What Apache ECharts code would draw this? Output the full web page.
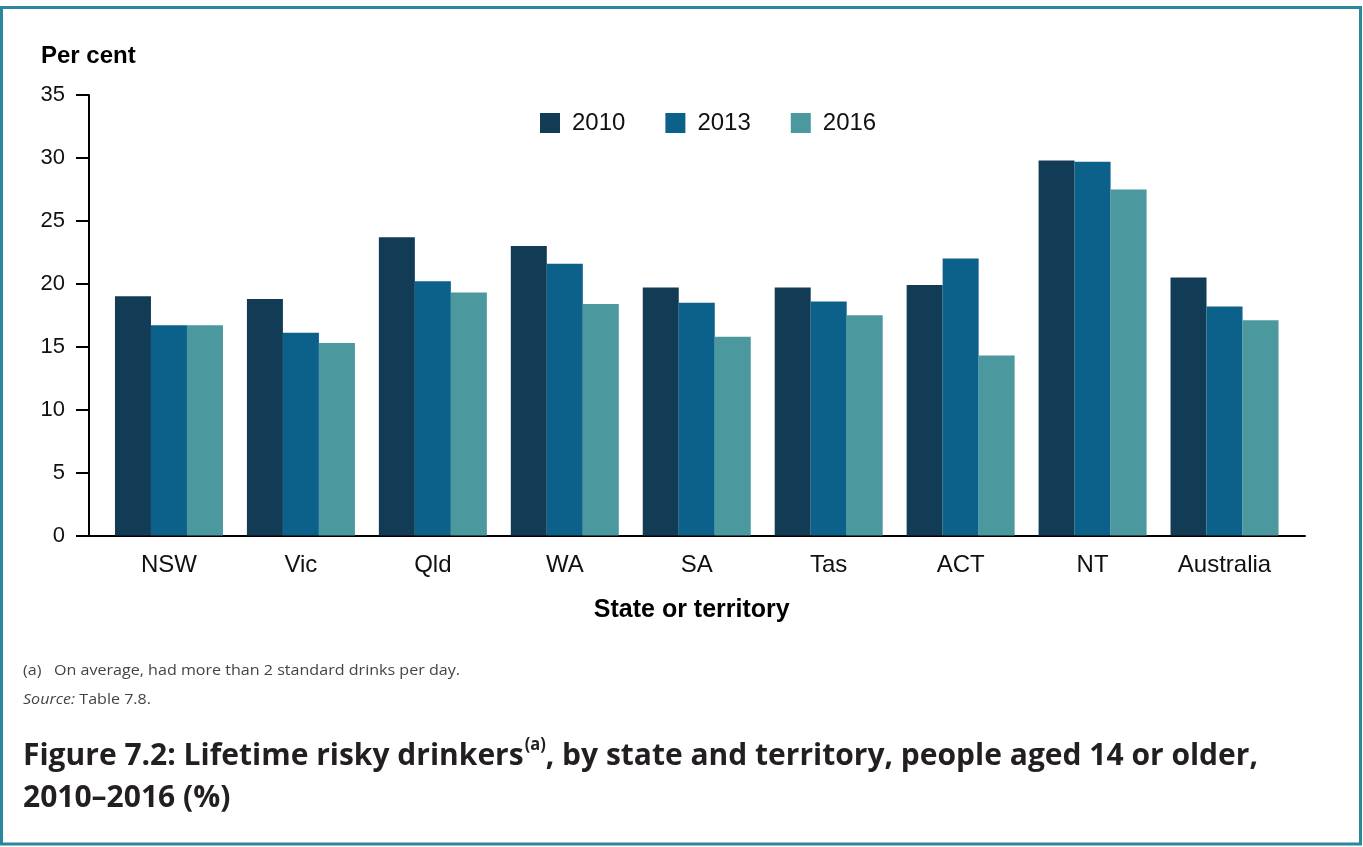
<!DOCTYPE html>
<html>
<head>
<meta charset="utf-8">
<script src="https://cdn.jsdelivr.net/npm/echarts@6/dist/echarts.min.js"></script>
<style>
html,body{margin:0;padding:0;background:#fff;}
#chart{width:1363px;height:847px;}
</style>
</head>
<body>
<div id="chart"></div>
<script>
// ---- data ----
const categories = ['NSW', 'Vic', 'Qld', 'WA', 'SA', 'Tas', 'ACT', 'NT', 'Australia'];
const seriesNames = ['2010', '2013', '2016'];
const values2010 = [19.0, 18.8, 23.7, 23.0, 19.7, 19.7, 19.9, 29.8, 20.5];
const values2013 = [16.7, 16.1, 20.2, 21.6, 18.5, 18.6, 22.0, 29.7, 18.2];
const values2016 = [16.7, 15.3, 19.3, 18.4, 15.8, 17.5, 14.3, 27.5, 17.1];
const yMin = 0, yMax = 35, yInterval = 5;
const yAxisTitle = 'Per cent';
const xAxisTitle = 'State or territory';
const footnote = '(a)   On average, had more than 2 standard drinks per day.';
const sourceLabel = 'Source:';
const sourceText = ' Table 7.8.';
const titleLine1a = 'Figure 7.2: Lifetime risky drinkers';
const titleSup = '(a)';
const titleLine1b = ', by state and territory, people aged 14 or older,';
const titleLine2 = '2010\u20132016 (%)';

const colors = ['#123c55', '#0b618a', '#4b999e'];
const frameColor = '#2a879c';
const sansFont = '"Liberation Sans", Arial, sans-serif';

// text measuring helper for condensed-looking text
const mctx = document.createElement('canvas').getContext('2d');
function w(text, font) { mctx.font = font; return mctx.measureText(text).width; }

const titleFont = 'bold 31px "Open Sans"';
const supFont = 'bold 17px "Open Sans"';
const wA = w(titleLine1a, titleFont), wS = w(titleSup, supFont) + 1, wB = w(titleLine1b, titleFont);
const titleScale = (1258 - 23) / (wA + wS + wB);
const titleX = 23;

const noteFont = '15px "Open Sans"';
const noteScale = (460 - 23) / w(footnote, noteFont);

const chart = echarts.init(document.getElementById('chart'), null, {renderer: 'canvas'});

const barData = [values2010, values2013, values2016];

const option = {
  animation: false,
  color: colors,
  legend: {
    data: seriesNames,
    left: 540,
    top: 111,
    padding: 0,
    itemWidth: 20,
    itemHeight: 20,
    itemGap: 40,
    icon: 'rect',
    textStyle: {fontFamily: sansFont, fontSize: 24, color: '#111', padding: [0, 0, 0, 7]}
  },
  grid: [
    {left: 103, right: 72.5, top: 95, bottom: 311.5, containLabel: false},
    {left: 89, right: 58, top: 95, bottom: 311.5, containLabel: false}
  ],
  xAxis: [
    {
      type: 'category',
      gridIndex: 0,
      data: categories,
      axisLine: {show: false},
      axisTick: {show: false},
      axisLabel: {fontFamily: sansFont, fontSize: 24, color: '#111', margin: 18},
      name: xAxisTitle,
      nameLocation: 'middle',
      nameGap: 62,
      nameTextStyle: {fontFamily: sansFont, fontSize: 25, fontWeight: 'bold', color: '#000', padding: [0, 10, 0, 0]}
    },
    {
      type: 'value',
      gridIndex: 1,
      min: 0, max: 1,
      axisLine: {show: true, onZero: false, lineStyle: {color: '#000', width: 2}},
      axisTick: {show: false},
      axisLabel: {show: false},
      splitLine: {show: false}
    }
  ],
  yAxis: [
    {
      type: 'value',
      gridIndex: 0,
      min: yMin, max: yMax, interval: yInterval,
      offset: 14,
      axisLine: {show: true, lineStyle: {color: '#000', width: 2}},
      axisTick: {show: true, length: 13, lineStyle: {color: '#000', width: 2}},
      axisLabel: {fontFamily: sansFont, fontSize: 22, color: '#111', margin: 24, padding: [5, 0, 0, 0]},
      splitLine: {show: false}
    },
    {
      type: 'value',
      gridIndex: 1,
      min: 0, max: 1,
      show: false
    }
  ],
  series: seriesNames.map((name, i) => ({
    name: name,
    type: 'bar',
    xAxisIndex: 0,
    yAxisIndex: 0,
    data: barData[i],
    barWidth: 36,
    barGap: '0%',
    itemStyle: {color: colors[i]}
  })),
  graphic: [
    {
      type: 'rect',
      shape: {x: 1.5, y: 7.5, width: 1359, height: 836.5},
      style: {fill: null, stroke: frameColor, lineWidth: 3},
      silent: true
    },
    {
      type: 'text',
      x: 41, y: 56,
      style: {text: yAxisTitle, font: 'bold 24px ' + sansFont, fill: '#000', verticalAlign: 'middle'}
    },
    {
      type: 'text',
      x: 23, y: 671,
      scaleX: noteScale,
      style: {text: footnote, font: noteFont, fill: '#444', verticalAlign: 'middle'}
    },
    {
      type: 'text',
      x: 23, y: 700,
      scaleX: noteScale,
      style: {
        text: '{i|' + sourceLabel + '}{n|' + sourceText + '}',
        verticalAlign: 'middle',
        rich: {
          i: {font: 'italic 15px "Open Sans"', fill: '#444'},
          n: {font: '15px "Open Sans"', fill: '#444'}
        }
      }
    },
    {
      type: 'text',
      x: titleX, y: 756,
      scaleX: titleScale,
      style: {text: titleLine1a, font: titleFont, fill: '#231f20', verticalAlign: 'middle'}
    },
    {
      type: 'text',
      x: titleX + wA * titleScale + 1, y: 745,
      scaleX: titleScale,
      style: {text: titleSup, font: supFont, fill: '#231f20', verticalAlign: 'middle'}
    },
    {
      type: 'text',
      x: titleX + (wA + wS) * titleScale, y: 756,
      scaleX: titleScale,
      style: {text: titleLine1b, font: titleFont, fill: '#231f20', verticalAlign: 'middle'}
    },
    {
      type: 'text',
      x: titleX, y: 798,
      scaleX: titleScale,
      style: {text: titleLine2, font: titleFont, fill: '#231f20', verticalAlign: 'middle'}
    }
  ]
};
chart.setOption(option);
</script>
</body>
</html>
